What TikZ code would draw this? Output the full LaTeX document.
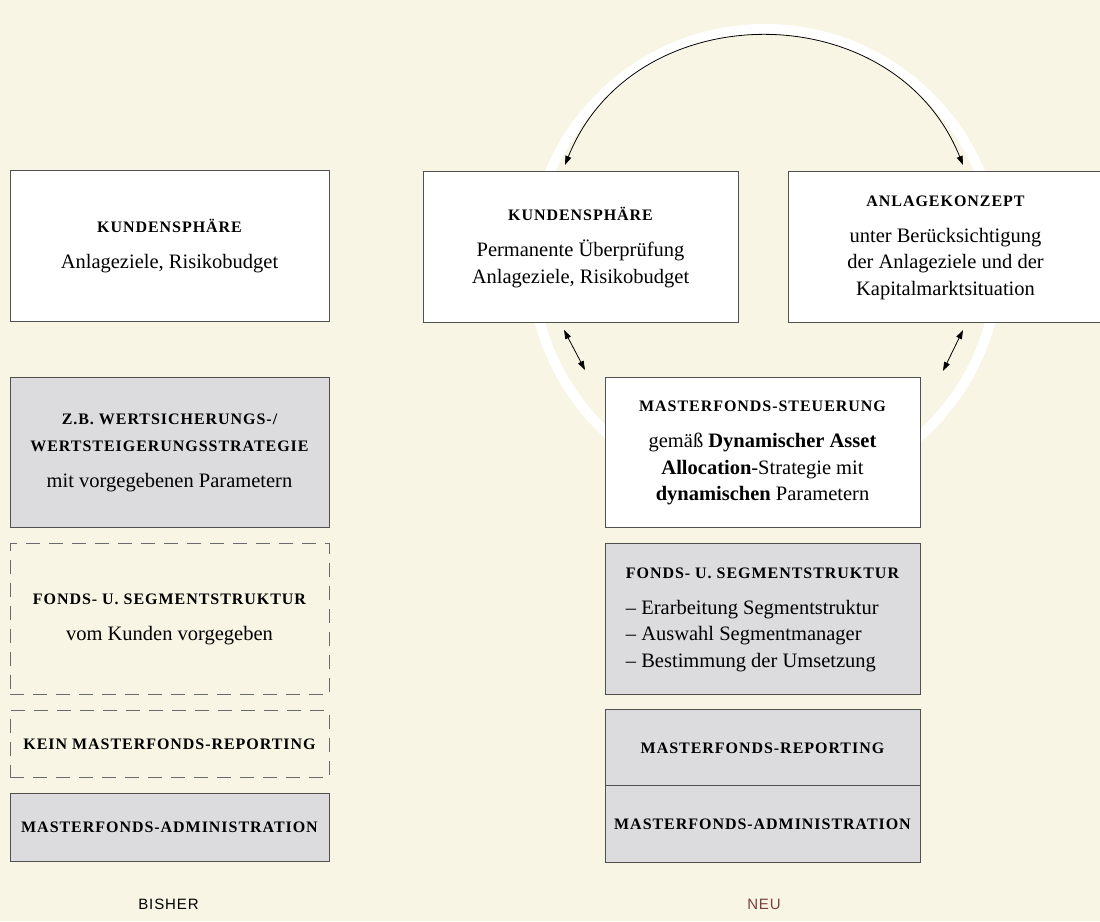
\documentclass[tikz,border=0pt]{standalone}
\usepackage{fontspec}
\setmainfont{Liberation Serif}
\newfontfamily\capfont[LetterSpace=6]{Liberation Serif}
\newfontfamily\tagfont[LetterSpace=6]{Liberation Sans}
\usepackage{xcolor}
\usepackage{tikz}
\usetikzlibrary{positioning,arrows.meta}
\definecolor{paper}{HTML}{F8F5E4}
\definecolor{boxgray}{HTML}{DCDCDF}
\definecolor{rim}{HTML}{505050}
\definecolor{neured}{HTML}{7B3F3F}
\newcommand{\hd}[1]{{\capfont\bfseries\fontsize{16}{26.5}\selectfont #1}}

\begin{document}
\begin{tikzpicture}[x=1pt, y=1pt,
  panel/.style={draw=rim, line width=1pt, fill=white, minimum width=319pt, align=center,
                inner sep=2pt, outer sep=0pt, font=\fontsize{20.5}{26.5}\selectfont},
  shaded/.style={panel, fill=boxgray},
  open/.style={panel, fill=none, draw=rim!85, dash pattern=on 14pt off 9pt},
  dbl/.style={{Triangle[length=9pt,width=6pt]}-{Triangle[length=9pt,width=6pt]}, line width=0.8pt},
  tag/.style={font=\tagfont\fontsize{15}{17}\selectfont},
  node distance=16pt]
\useasboundingbox (0,0) rectangle (1100,921);
\fill[paper] (0,0) rectangle (1100,921);
\clip (0,0) rectangle (1100,921);
\draw[white, line width=10pt] (765,659) circle[radius=233];

\node[panel, minimum height=151pt] (kunde) at (169.5,674.5) {\hd{KUNDENSPHÄRE}\\[9.5pt] Anlageziele, Risikobudget};
\node[shaded, minimum height=150pt, below=56pt of kunde] (strategie) {\hd{Z.B. WERTSICHERUNGS-/}\\\hd{WERTSTEIGERUNGSSTRATEGIE}\\[9.5pt] mit vorgegebenen Parametern};
\node[open, minimum height=151pt, below=of strategie] (fonds) {\hd{FONDS- U. SEGMENTSTRUKTUR}\\[9.5pt] vom Kunden vorgegeben};
\node[open, minimum height=67pt, below=of fonds] (keinrep) {\hd{KEIN MASTERFONDS-REPORTING}};
\node[shaded, minimum height=67pt, below=of keinrep] (admin) {\hd{MASTERFONDS-ADMINISTRATION}};

\node[panel, minimum width=315pt, minimum height=151pt] (kundeneu) at (580.5,673.5) {\hd{KUNDENSPHÄRE}\\[9.5pt] Permanente Überprüfung\\Anlageziele, Risikobudget};
\node[panel, minimum width=315pt, minimum height=151pt, right=50pt of kundeneu] (konzept) {\hd{ANLAGEKONZEPT}\\[9.5pt] unter Berücksichtigung\\der Anlageziele und der\\Kapitalmarktsituation};
\node[panel, minimum width=315pt, minimum height=150pt] (steuerung) at (762.5,468) {\hd{MASTERFONDS-STEUERUNG}\\[9.5pt] gemäß \textbf{Dynamischer Asset}\\\textbf{Allocation}-Strategie mit\\\textbf{dynamischen} Parametern};
\node[shaded, minimum width=315pt, minimum height=151pt, below=of steuerung, align=left] (struktur) {\hd{FONDS- U. SEGMENTSTRUKTUR}\\[9.5pt] -- Erarbeitung Segmentstruktur\\-- Auswahl Segmentmanager\\-- Bestimmung der Umsetzung};
\node[shaded, minimum width=315pt, minimum height=76pt, below=15pt of struktur] (reporting) {\hd{MASTERFONDS-REPORTING}};
\node[shaded, minimum width=315pt, minimum height=76pt, below=0pt of reporting] (verwaltung) {\hd{MASTERFONDS-ADMINISTRATION}};

\draw[dbl] ([shift={(-15.5,7)}]kundeneu.north) to[out=68.2, in=111.8, looseness=1.19] ([shift={(17.5,7)}]konzept.north);
\draw[dbl] ([shift={(-16.5,-7)}]kundeneu.south) -- ([shift={(-20,8)}]steuerung.north west);
\draw[dbl] ([shift={(17.5,-7)}]konzept.south) -- ([shift={(23,7)}]steuerung.north east);

\node[tag] (bisher) at (168.5,16.5) {BISHER};
\node[tag, text=neured] (neu) at (764,16.5) {NEU};
\end{tikzpicture}
\end{document}
